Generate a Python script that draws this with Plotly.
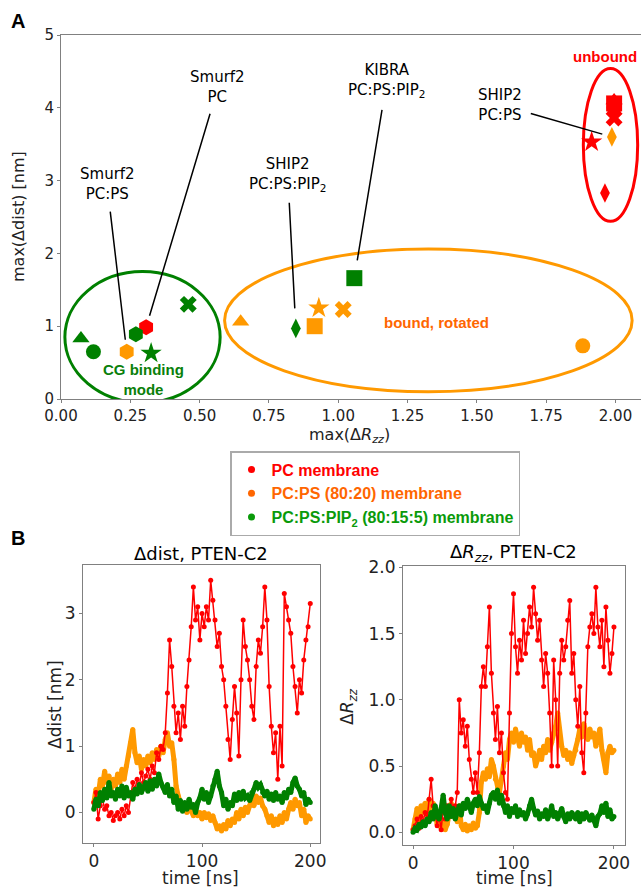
import plotly.graph_objects as go

W, H = 641, 889

# ---------------- Panel A data ----------------
symbols = ["circle", "triangle-up", "x", "star", "diamond-tall", "hexagon", "square"]
sym_sizes = [15, 15, 15, 16, 14, 16, 16]

pc_rzz = [1.995, 1.995, 1.995, 1.914, 1.962, 0.307, 1.995]
pc_dist = [4.00, 4.10, 3.86, 3.53, 2.83, 0.985, 4.06]
pcps_rzz = [1.882, 0.648, 1.018, 0.930, 1.987, 0.237, 0.915]
pcps_dist = [0.73, 1.06, 1.23, 1.25, 3.60, 0.65, 1.00]
pip2_rzz = [0.117, 0.072, 0.459, 0.325, 0.847, 0.270, 1.058]
pip2_dist = [0.65, 0.83, 1.30, 0.63, 0.97, 0.89, 1.66]

# Region ellipses: (center x, center y, half width, half height)
cg_region = (0.294, 0.85, 0.280, 0.90)
rotated_region = (1.325, 1.08, 0.735, 0.98)
unbound_region = (1.982, 3.49, 0.098, 1.05)

# ---------------- Panel B data ----------------
time_ns = list(range(0, 201, 2))

dist_pc = [
    0.15, 0.30, -0.10, 0.10, 0.20, 0.05, 0.10, -0.05, 0.00, -0.12,
    -0.05, 0.00, -0.10, 0.05, -0.05, 0.10, 0.00, 0.25, 0.45, 0.35,
    0.50, 0.40, 0.60, 0.45, 0.55, 0.65, 0.50, 0.70, 0.60, 0.90,
    0.80, 1.00, 0.95, 1.20, 1.80, 2.60, 2.20, 1.60, 1.20, 1.50,
    1.10, 1.60, 1.30, 1.90, 2.30, 2.80, 3.40, 2.90, 3.10, 2.60,
    3.00, 2.80, 3.10, 2.90, 3.50, 3.20, 2.90, 2.50, 2.70, 2.20,
    2.00, 1.60, 1.10, 0.80, 1.40, 1.90, 1.50, 0.85, 2.00, 2.90,
    2.50, 2.30, 2.00, 1.60, 1.40, 2.20, 2.60, 2.40, 2.80, 3.40,
    2.90, 1.90, 1.30, 0.90, 1.20, 0.50, 1.30, 0.70, 3.30, 3.10,
    2.90, 2.70, 2.20, 1.90, 1.50, 2.00, 1.80, 2.30, 2.60, 2.80,
    3.15]
dist_pcps = [
    0.15, 0.35, 0.25, 0.50, 0.40, 0.62, 0.45, 0.55, 0.35, 0.50,
    0.40, 0.58, 0.45, 0.65, 0.50, 0.70, 0.85, 1.05, 1.25, 0.90,
    0.75, 0.85, 0.65, 0.80, 0.70, 0.85, 0.75, 0.90, 0.80, 0.95,
    0.85, 1.00, 0.90, 1.10, 1.20, 1.00, 1.05, 0.80, 0.40, 0.25,
    0.15, 0.05, 0.12, 0.00, 0.10, 0.02, -0.05, 0.05, -0.05, 0.00,
    -0.10, 0.00, -0.08, -0.02, -0.12, -0.05, -0.15, -0.25, -0.20, -0.28,
    -0.18, -0.25, -0.12, -0.20, -0.10, -0.15, 0.00, -0.10, 0.05, -0.05,
    0.08, 0.00, 0.10, 0.20, 0.10, 0.25, 0.15, 0.22, 0.10, 0.05,
    -0.05, -0.15, -0.05, -0.20, -0.10, -0.18, -0.05, -0.15, 0.00, -0.10,
    0.05, 0.15, 0.05, 0.20, 0.10, 0.15, -0.05, 0.05, -0.15, -0.05,
    -0.10]
dist_pip2 = [
    0.05, 0.20, 0.10, 0.30, 0.18, 0.35, 0.22, 0.45, 0.25, 0.30,
    0.20, 0.35, 0.25, 0.40, 0.22, 0.38, 0.25, 0.30, 0.20, 0.35,
    0.28, 0.42, 0.30, 0.38, 0.45, 0.32, 0.48, 0.35, 0.50, 0.40,
    0.58, 0.45, 0.38, 0.30, 0.42, 0.25, 0.35, 0.15, 0.25, 0.05,
    0.18, 0.02, 0.15, 0.05, 0.20, 0.08, 0.12, 0.00, 0.15, 0.22,
    0.35, 0.20, 0.30, 0.15, 0.25, 0.40, 0.50, 0.62, 0.40, 0.30,
    0.10, 0.20, 0.05, 0.15, 0.10, 0.28, 0.18, 0.30, 0.20, 0.32,
    0.22, 0.25, 0.18, 0.30, 0.35, 0.45, 0.38, 0.42, 0.30, 0.25,
    0.32, 0.20, 0.28, 0.18, 0.30, 0.20, 0.25, 0.15, 0.30, 0.22,
    0.35, 0.30, 0.45, 0.52, 0.40, 0.35, 0.25, 0.30, 0.12, 0.20,
    0.15]

rzz_pc = [
    0.02, 0.05, 0.10, 0.03, 0.12, 0.08, 0.15, 0.10, 0.25, 0.40,
    0.20, 0.15, 0.05, 0.12, 0.02, 0.18, 0.10, 0.20, 0.12, 0.25,
    0.15, 0.20, 0.30, 1.00, 0.75, 0.85, 0.65, 0.80, 0.55, 0.40,
    0.30, 0.45, 0.30, 0.60, 1.10, 1.25, 1.10, 1.40, 1.70, 1.20,
    0.90, 0.70, 0.95, 0.60, 0.75, 0.45, 0.30, 0.25, 0.90, 1.50,
    1.80, 1.40, 1.20, 1.45, 1.30, 1.60, 1.35, 1.50, 1.70, 1.55,
    1.85, 1.65, 1.45, 1.60, 1.30, 1.10, 1.35, 1.20, 0.90, 0.50,
    1.30, 1.00, 0.50, 1.20, 1.45, 1.30, 1.40, 1.60, 1.75, 1.20,
    1.35, 1.00, 0.80, 1.10, 0.60, 0.45, 0.90, 1.40, 1.55, 1.65,
    1.50, 1.85, 1.55, 1.40, 1.60, 1.25, 1.70, 1.45, 1.20, 1.35,
    1.55]
rzz_pcps = [
    0.02, 0.10, 0.18, 0.08, 0.20, 0.15, 0.22, 0.12, 0.25, 0.18,
    0.22, 0.15, 0.06, 0.10, 0.03, 0.08, 0.02, 0.06, 0.15, 0.22,
    0.12, 0.18, 0.08, 0.20, 0.05, 0.02, 0.06, 0.01, 0.05, 0.02,
    0.07, 0.03, 0.05, 0.15, 0.38, 0.45, 0.40, 0.48, 0.42, 0.55,
    0.50, 0.40, 0.35, 0.30, 0.40, 0.50, 0.60, 0.55, 0.70, 0.75,
    0.68, 0.78, 0.72, 0.65, 0.75, 0.68, 0.72, 0.62, 0.70, 0.58,
    0.60, 0.50, 0.55, 0.62, 0.55, 0.65, 0.60, 0.70, 0.62, 0.68,
    0.75, 0.80, 0.90, 0.72, 0.65, 0.58, 0.62, 0.55, 0.60, 0.52,
    0.58, 0.62, 0.70, 0.78, 0.72, 0.82, 0.75, 0.70, 0.78, 0.72,
    0.75, 0.65, 0.72, 0.78, 0.62, 0.55, 0.45, 0.60, 0.65, 0.60,
    0.62]
rzz_pip2 = [
    0.00, 0.03, 0.02, 0.06, 0.04, 0.08, 0.05, 0.10, 0.08, 0.15,
    0.10, 0.20, 0.12, 0.10, 0.18, 0.28, 0.15, 0.10, 0.20, 0.12,
    0.18, 0.10, 0.15, 0.20, 0.13, 0.22, 0.18, 0.25, 0.20, 0.15,
    0.22, 0.25, 0.20, 0.27, 0.22, 0.18, 0.20, 0.15, 0.22, 0.28,
    0.30, 0.25, 0.32, 0.22, 0.28, 0.20, 0.15, 0.20, 0.12, 0.18,
    0.15, 0.20, 0.12, 0.17, 0.13, 0.15, 0.10, 0.14, 0.20, 0.25,
    0.18, 0.13, 0.16, 0.10, 0.14, 0.12, 0.17, 0.10, 0.14, 0.20,
    0.12, 0.15, 0.10, 0.13, 0.18, 0.12, 0.08, 0.14, 0.10, 0.15,
    0.12, 0.10, 0.15, 0.08, 0.14, 0.10, 0.15, 0.12, 0.09, 0.13,
    0.10, 0.05, 0.12, 0.14, 0.20, 0.15, 0.22, 0.12, 0.17, 0.10,
    0.12]

# ---------------- Styling ----------------
RED = "#ff0000"
ORANGE = "#ff9900"
GREEN = "#008000"
ORANGE_TXT = "#ff6600"
GREEN_TXT = "#0a800a"
AXC = "#808080"
FONT = "DejaVu Sans"
BOLD = "Liberation Sans, Arial"
RZZ = "Δ<i>R</i><sub><i>zz</i></sub>"


def xd(a, b):
    return [a / W, b / W]


def yd(top, bottom):
    return [1 - bottom / H, 1 - top / H]


fig = go.Figure()

# Panel A scatter
for name, xs, ys, col in [("PC", pc_rzz, pc_dist, RED),
                          ("PC:PS", pcps_rzz, pcps_dist, ORANGE),
                          ("PC:PS:PIP2", pip2_rzz, pip2_dist, GREEN)]:
    fig.add_trace(go.Scatter(
        x=xs, y=ys, mode="markers", name=name, showlegend=False,
        marker=dict(symbol=symbols, size=sym_sizes, color=col, opacity=1,
                    line=dict(width=0)),
        xaxis="x", yaxis="y"))

# Legend entries
for label, col, tcol in [("PC membrane", RED, RED),
                         ("PC:PS (80:20) membrane", ORANGE_TXT, ORANGE_TXT),
                         ("PC:PS:PIP<sub>2</sub> (80:15:5) membrane", "#0a9a0a", "#0a9a0a")]:
    fig.add_trace(go.Scatter(
        x=[None], y=[None], mode="markers", showlegend=True,
        name=f"<span style='color:{tcol}'><b>{label}</b></span>",
        marker=dict(size=7, color=col, opacity=1), xaxis="x", yaxis="y"))


# Panel B traces
def series(x, y, col, ax, ay, thick):
    if thick:
        return go.Scatter(x=x, y=y, mode="lines+markers", showlegend=False,
                          line=dict(color=col, width=5), marker=dict(size=5, color=col),
                          xaxis=ax, yaxis=ay)
    return go.Scatter(x=x, y=y, mode="lines+markers", showlegend=False,
                      line=dict(color=col, width=1.5), marker=dict(size=5, color=col),
                      xaxis=ax, yaxis=ay)


fig.add_trace(series(time_ns, dist_pcps, ORANGE, "x2", "y2", True))
fig.add_trace(series(time_ns, dist_pc, RED, "x2", "y2", False))
fig.add_trace(series(time_ns, dist_pip2, GREEN, "x2", "y2", True))
fig.add_trace(series(time_ns, rzz_pcps, ORANGE, "x3", "y3", True))
fig.add_trace(series(time_ns, rzz_pc, RED, "x3", "y3", False))
fig.add_trace(series(time_ns, rzz_pip2, GREEN, "x3", "y3", True))

# Ellipses
shapes = []
for (cx, cy, rx, ry), col in [(cg_region, GREEN), (rotated_region, ORANGE), (unbound_region, RED)]:
    shapes.append(dict(type="circle", xref="x", yref="y", x0=cx - rx, x1=cx + rx,
                       y0=cy - ry, y1=cy + ry, line=dict(color=col, width=3), layer="below"))

tickfont = dict(family=FONT, size=15, color="#222")
tickfontB = dict(family=FONT, size=17, color="#222")
common = dict(showline=True, linecolor=AXC, linewidth=1, ticks="outside", ticklen=3,
              tickcolor=AXC, showgrid=False, zeroline=False, automargin=False)

ann = []
# pointer labels: (text, text x, text y, target x, target y, standoff, startstandoff)
pointers = [
    ("Smurf2<br>PC", 0.566, 4.28, pc_rzz[5], pc_dist[5], 12, 6),
    ("Smurf2<br>PC:PS", 0.166, 2.95, pcps_rzz[5], pcps_dist[5], 12, 7),
    ("SHIP2<br>PC:PS:PIP<sub>2</sub>", 0.818, 3.08, pip2_rzz[4], pip2_dist[4], 20, 7),
    ("KIBRA<br>PC:PS:PIP<sub>2</sub>", 1.175, 4.37, pip2_rzz[6], pip2_dist[6], 18, 8),
    ("SHIP2<br>PC:PS", 1.582, 4.045, pcps_rzz[4], pcps_dist[4], 10, 8),
]
for txt, tx, ty, px, py, so, sso in pointers:
    ann.append(dict(text=txt, x=px, y=py, ax=tx, ay=ty, xref="x", yref="y",
                    axref="x", ayref="y", showarrow=True, arrowhead=0, arrowwidth=1.5,
                    arrowcolor="black", standoff=so, startstandoff=sso,
                    font=dict(family=FONT, size=15, color="black")))


def ptext(text, x, y, size, family=FONT, angle=0, color="black"):
    return dict(text=text, x=x / W, y=1 - y / H, xref="paper", yref="paper",
                xanchor="center", yanchor="middle", showarrow=False, textangle=angle,
                font=dict(family=family, size=size, color=color))


ann += [
    dict(text="<b>unbound</b>", x=1.838, y=4.70, xref="x", yref="y", xanchor="left",
         showarrow=False, font=dict(family=BOLD, size=15, color=RED)),
    dict(text="<b>bound, rotated</b>", x=1.356, y=1.045, xref="x", yref="y",
         xanchor="center", showarrow=False, font=dict(family=BOLD, size=15, color=ORANGE_TXT)),
    dict(text="<b>CG binding<br>mode</b>", x=0.296, y=0.27, xref="x", yref="y",
         xanchor="center", showarrow=False, font=dict(family=BOLD, size=15, color=GREEN_TXT)),
    ptext("<b>A</b>", 18, 21, 20, BOLD),
    ptext("<b>B</b>", 18, 538, 20, BOLD),
    ptext("Δdist, PTEN-C2", 201, 553, 18),
    ptext(RZZ + ", PTEN-C2", 513, 553, 18),
    # axis titles
    ptext(f"max({RZZ})", 349, 435, 16, color="#222"),
    ptext("max(Δdist) [nm]", 18, 217, 16, angle=-90, color="#222"),
    ptext("time [ns]", 201, 878, 17, color="#222"),
    ptext("time [ns]", 514, 878, 17, color="#222"),
    ptext("Δdist [nm]", 55, 705, 17, angle=-90, color="#222"),
    ptext(RZZ, 348, 707, 17, angle=-90, color="#222"),
]

fig.update_layout(
    width=W, height=H, margin=dict(l=0, r=0, t=0, b=0, autoexpand=False),
    paper_bgcolor="white", plot_bgcolor="white",
    shapes=shapes, annotations=ann,
    legend=dict(x=230 / W, y=1 - 451 / H, xanchor="left", yanchor="top",
                bgcolor="white", bordercolor="#aaaaaa", borderwidth=1.5,
                font=dict(family=BOLD, size=16), tracegroupgap=0, itemwidth=30),
    xaxis=dict(domain=xd(61, 641), range=[0, 2.092], anchor="y", mirror=True,
               tickvals=[0, 0.25, 0.5, 0.75, 1.0, 1.25, 1.5, 1.75, 2.0], tickformat=".2f",
               tickfont=tickfont, **common),
    yaxis=dict(domain=yd(35, 399), range=[0, 5], anchor="x", dtick=1, tickfont=tickfont,
               **common),
    xaxis2=dict(domain=xd(83, 320), range=[-10, 209], anchor="y2", mirror=True,
                tickvals=[0, 100, 200], tickfont=tickfontB, **common),
    yaxis2=dict(domain=yd(565, 843), range=[-0.46, 3.73], anchor="x2", mirror=True,
                tickvals=[0, 1, 2, 3], tickfont=tickfontB, **common),
    xaxis3=dict(domain=xd(403, 625), range=[-10, 211], anchor="y3", mirror=True,
                tickvals=[0, 100, 200], tickfont=tickfontB, **common),
    yaxis3=dict(domain=yd(566, 845), range=[-0.096, 2.01], anchor="x3", mirror=True,
                tickvals=[0, 0.5, 1.0, 1.5, 2.0], tickformat=".1f", tickfont=tickfontB,
                **common),
)

fig.write_html("out.html", config={"displayModeBar": False},
               post_script="document.body.style.margin='0px';document.body.style.overflow='hidden';")
